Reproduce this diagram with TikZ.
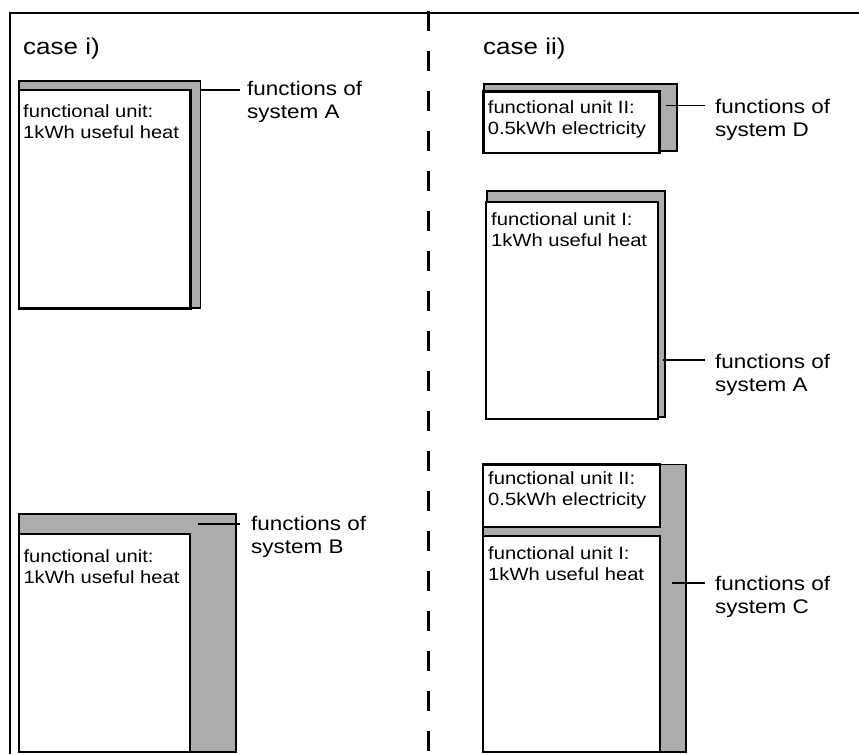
\documentclass[tikz,border=0pt]{standalone}
\usepackage{fontspec}
\setmainfont[FakeStretch=1.14]{Liberation Sans}
\definecolor{fgray}{RGB}{172,172,172}
\begin{document}
\begin{tikzpicture}[x=1pt,y=-1pt,
  graybox/.style={draw=black, line width=1.9pt, fill=fgray, inner sep=0pt, outer sep=0pt, anchor=north west},
  whitebox/.style={draw=black, line width=2.2pt, fill=white, inner sep=0pt, outer sep=0pt, anchor=north west},
  boxtext/.style={anchor=base west, inner sep=0pt, align=left, font=\fontsize{17.7}{21}\selectfont},
  labeltext/.style={anchor=base west, inner sep=0pt, align=left, font=\fontsize{19.7}{22.8}\selectfont},
  casetext/.style={anchor=base west, inner sep=0pt, font=\fontsize{22.8}{26}\selectfont},
  lead/.style={line width=1.7pt},
  framestyle/.style={line width=1.4pt},
  divider/.style={line width=2.5pt, dash pattern=on 20pt off 20pt}]
\useasboundingbox (0,0) rectangle (859,754);
% frame
\coordinate (fbl) at (10,754);
\coordinate (ftl) at (10,13);
\coordinate (ftr) at (859,13);
\draw[framestyle] (fbl) -- (ftl) -- (ftr);
% divider
\coordinate (dtop) at (428.5,11);
\coordinate (dbot) at (428.5,754);
\draw[divider] (dtop) -- (dbot);
% headings
\node[casetext] (c1) at (23,55) {case i)};
\node[casetext] (c2) at (483,55) {case ii)};

% case i, system A
\node[graybox, minimum width=181.5pt, minimum height=227pt] (gA1) at (19,81) {};
\node[whitebox, minimum width=171.5pt, minimum height=218.5pt] (wA1) at (19,90) {};
\node[boxtext] (tA1) at (23,138.3) {functional unit:\\1kWh useful heat};
\coordinate (pA1) at (200.5,90);
\coordinate (qA1) at (240,90);
\draw[lead] (pA1) -- (qA1);
\node[labeltext] (lA1) at (247,118.3) {functions of\\system A};

% case i, system B
\node[graybox, minimum width=217pt, minimum height=238pt] (gB1) at (19,514) {};
\node[whitebox, minimum width=171pt, minimum height=218pt] (wB1) at (19,534) {};
\node[boxtext] (tB1) at (23.3,583.3) {functional unit:\\1kWh useful heat};
\coordinate (pB1) at (198,524);
\coordinate (qB1) at (240,524);
\draw[lead] (pB1) -- (qB1);
\node[labeltext] (lB1) at (251,553) {functions of\\system B};

% case ii, system D
\node[graybox, minimum width=192.7pt, minimum height=67pt] (gD2) at (484,84) {};
\node[whitebox, minimum width=176pt, minimum height=61.5pt] (wD2) at (483.5,91.5) {};
\node[boxtext] (tD2) at (487.7,135) {functional unit II:\\0.5kWh electricity};
\coordinate (pD2) at (666,105.5);
\coordinate (qD2) at (705,105.5);
\draw[lead] (pD2) -- (qD2);
\node[labeltext] (lD2) at (715,136.7) {functions of\\system D};

% case ii, system A
\node[graybox, minimum width=178pt, minimum height=226.3pt] (gA2) at (487,191) {};
\node[whitebox, minimum width=172.3pt, minimum height=217.3pt] (wA2) at (486,202) {};
\node[boxtext] (tA2) at (491,246.7) {functional unit I:\\1kWh useful heat};
\coordinate (pA2) at (663.3,360);
\coordinate (qA2) at (705,360);
\draw[lead] (pA2) -- (qA2);
\node[labeltext] (lA2) at (715,391.7) {functions of\\system A};

% case ii, system C
\node[graybox, minimum width=203.3pt, minimum height=287.5pt] (gC2) at (483,464.5) {};
\node[whitebox, minimum width=177pt, minimum height=62.5pt] (wC2a) at (483,464.5) {};
\node[whitebox, minimum width=177pt, minimum height=216pt] (wC2b) at (483,536) {};
\node[boxtext] (tC2a) at (488,505) {functional unit II:\\0.5kWh electricity};
\node[boxtext] (tC2b) at (488,580) {functional unit I:\\1kWh useful heat};
\coordinate (pC2) at (671.7,582.7);
\coordinate (qC2) at (705,582.7);
\draw[lead] (pC2) -- (qC2);
\node[labeltext] (lC2) at (715,613.3) {functions of\\system C};
\end{tikzpicture}
\end{document}
